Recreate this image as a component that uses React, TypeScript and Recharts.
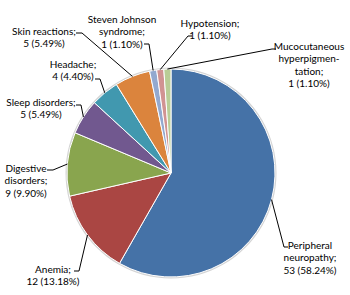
import { Cell, Pie, PieChart } from "recharts";

const CATEGORIES = [
  "Peripheral neuropathy",
  "Anemia",
  "Digestive disorders",
  "Sleep disorders",
  "Headache",
  "Skin reactions",
  "Steven Johnson syndrome",
  "Hypotension",
  "Mucocutaneous hyperpigmentation",
];
const COUNTS = [53, 12, 9, 5, 4, 5, 1, 1, 1];
const PERCENTS = ["58.24%", "13.18%", "9.90%", "5.49%", "4.40%", "5.49%", "1.10%", "1.10%", "1.10%"];
// how Excel wrapped each label name
const LABEL_LINES = [
  ["Peripheral", "neuropathy;"],
  ["Anemia;"],
  ["Digestive", "disorders;"],
  ["Sleep disorders;"],
  ["Headache;"],
  ["Skin reactions;"],
  ["Steven Johnson", "syndrome;"],
  ["Hypotension;"],
  ["Mucocutaneous", "hyperpigmen-", "tation;"],
];

const COLORS = ["#4572A7", "#AA4643", "#89A54E", "#71588F", "#4198AF", "#DB843D", "#93A9CF", "#D19392", "#B9CD96"];

// manual label placement (text centre x, first line y, leader elbow and attach point)
const LABEL_LAYOUT = [
  { x: 310, y: 245, elbow: [284, 247], attach: [288, 247] },
  { x: 53, y: 269, elbow: [79, 271], attach: [74, 271] },
  { x: 26, y: 168, elbow: [53, 170], attach: [47, 170] },
  { x: 41, y: 102, elbow: [81, 105], attach: [76, 105] },
  { x: 73, y: 64, elbow: [100, 79], attach: [95, 79] },
  { x: 44, y: 31, elbow: [82, 33], attach: [76, 33] },
  { x: 122, y: 19, elbow: [149, 44], attach: [144, 44] },
  { x: 210, y: 23, elbow: [188, 36], attach: [192, 36] },
  { x: 309, y: 46, elbow: [272, 49], attach: [276, 49] },
];

const data = CATEGORIES.map((name, i) => ({ name, value: COUNTS[i] }));
const RADIAN = Math.PI / 180;
const LINE_H = 12.3;

function renderLabel(props: any) {
  const { cx, cy, midAngle, outerRadius, index } = props;
  const lay = LABEL_LAYOUT[index];
  const px = cx + outerRadius * Math.cos(-midAngle * RADIAN);
  const py = cy + outerRadius * Math.sin(-midAngle * RADIAN);
  const lines = [...LABEL_LINES[index], `${COUNTS[index]} (${PERCENTS[index]})`];
  return (
    <g key={`lbl-${index}`}>
      <polyline
        points={`${px},${py} ${lay.elbow[0]},${lay.elbow[1]} ${lay.attach[0]},${lay.attach[1]}`}
        fill="none"
        stroke="#000"
        strokeWidth={1}
      />
      <text x={lay.x} y={lay.y} textAnchor="middle" dominantBaseline="central" fontSize={10} fill="#000">
        {lines.map((t, j) => (
          <tspan key={j} x={lay.x} y={lay.y + j * LINE_H}>
            {t}
          </tspan>
        ))}
      </text>
    </g>
  );
}

export default function App() {
  return (
    <div style={{ width: 350, height: 295, background: "#fff", fontFamily: "Lato, sans-serif" }}>
      <style>{"body{margin:0}"}</style>
      <PieChart width={350} height={295} margin={{ top: 0, right: 0, bottom: 0, left: 0 }}>
        <Pie
          data={[{ value: 1 }]}
          dataKey="value"
          cx={171}
          cy={173}
          outerRadius={105.5}
          startAngle={90}
          endAngle={-270}
          fill="#d4d4d4"
          stroke="none"
          isAnimationActive={false}
        />
        <Pie
          data={data}
          dataKey="value"
          nameKey="name"
          cx={171}
          cy={173}
          outerRadius={104}
          startAngle={90}
          endAngle={-270}
          stroke="#fff"
          strokeWidth={1}
          label={renderLabel}
          labelLine={false}
          isAnimationActive={false}
        >
          {data.map((d, i) => (
            <Cell key={d.name} fill={COLORS[i]} />
          ))}
        </Pie>
      </PieChart>
    </div>
  );
}
